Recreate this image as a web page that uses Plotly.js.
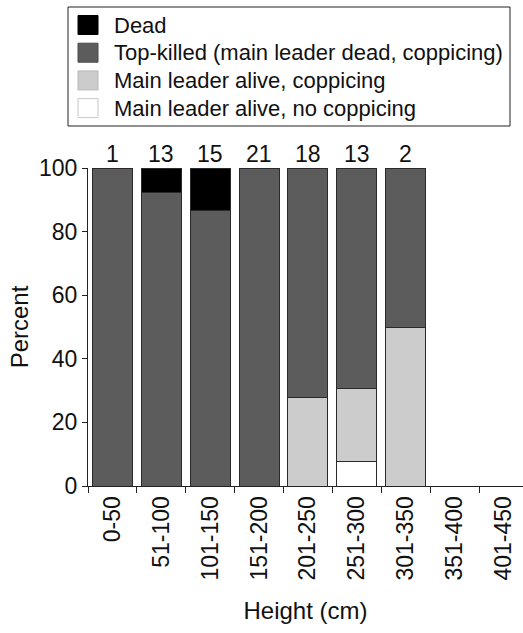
<!DOCTYPE html>
<html>
<head>
<meta charset="utf-8">
<script src="https://cdn.plot.ly/plotly-3.0.1.min.js"></script>
<style>html,body{margin:0;padding:0;background:#fff;}#chart{width:523px;height:633px;}</style>
</head>
<body>
<div id="chart"></div>
<script>
const heightClasses = ["0-50","51-100","101-150","151-200","201-250","251-300","301-350","351-400","401-450"];
const sampleSizes = [1, 13, 15, 21, 18, 13, 2, null, null];
const deadPct = [0, 7.7, 13.3, 0, 0, 0, 0, null, null];
const topKilledPct = [100, 92.3, 86.7, 100, 72.2, 69.2, 50, null, null];
const aliveCoppicingPct = [0, 0, 0, 0, 27.8, 23.1, 50, null, null];
const aliveNoCoppicingPct = [0, 0, 0, 0, 0, 7.7, 0, null, null];
const seriesNames = ["Main leader alive, no coppicing", "Main leader alive, coppicing", "Top-killed (main leader dead, coppicing)", "Dead"];
const seriesColors = ["#ffffff", "#cccccc", "#5c5c5c", "#000000"];
const swatchEdges = ["#c8c8c8", "#b8b8b8", "#4a4a4a", "#000000"];
const seriesValues = [aliveNoCoppicingPct, aliveCoppicingPct, topKilledPct, deadPct];

const FONT = "Liberation Sans, Arial, Helvetica, sans-serif";
const W = 523, H = 633;
const M = {l: 88, r: 0, t: 168, b: 147};
const plotW = W - M.l - M.r, plotH = H - M.t - M.b;
const px2x = px => (px - M.l) / plotW;
const py2y = py => (H - M.b - py) / plotH;

const traces = seriesNames.map((name, i) => ({
  type: "bar",
  x: heightClasses,
  y: seriesValues[i],
  name: name,
  marker: {color: seriesColors[i], line: {color: "#2a2a2a", width: 1}},
  hoverinfo: "skip",
  showlegend: false
}));

const annotations = heightClasses.map((c, i) => sampleSizes[i] == null ? null : ({
  x: c, y: 100, xref: "x", yref: "y",
  text: String(sampleSizes[i]),
  showarrow: false, yanchor: "bottom", yshift: -1,
  font: {family: FONT, size: 23, color: "#111"}
})).filter(a => a);

// Hand-built legend (box, swatches, labels), top entry = top of stack
const shapes = [{
  type: "rect", xref: "paper", yref: "paper",
  x0: px2x(68), x1: px2x(510), y0: py2y(126), y1: py2y(7),
  line: {color: "#222", width: 1}, fillcolor: "rgba(0,0,0,0)", layer: "above"
}];
const legendOrder = [3, 2, 1, 0];
legendOrder.forEach((k, row) => {
  const cy = 25 + row * 27.7;
  shapes.push({
    type: "rect", xref: "paper", yref: "paper",
    x0: px2x(78), x1: px2x(98), y0: py2y(cy + 9.5), y1: py2y(cy - 9.5),
    fillcolor: seriesColors[k], line: {color: swatchEdges[k], width: 1}, layer: "above"
  });
  annotations.push({
    xref: "paper", yref: "paper", x: px2x(112), y: py2y(cy),
    xanchor: "left", yanchor: "middle", showarrow: false,
    text: seriesNames[k],
    font: {family: FONT, size: 22, color: "#111"}
  });
});

const layout = {
  width: W, height: H,
  margin: M,
  paper_bgcolor: "#fff", plot_bgcolor: "#fff",
  barmode: "stack",
  bargap: 0.18,
  font: {family: FONT, size: 22, color: "#111"},
  showlegend: false,
  xaxis: {
    type: "category",
    categoryorder: "array", categoryarray: heightClasses,
    range: [-0.5, 8.4],
    tickson: "boundaries",
    ticks: "outside", ticklen: 6, tickcolor: "#222", tickwidth: 1,
    tickangle: -90,
    showline: true, linecolor: "#222", linewidth: 1,
    showgrid: false, zeroline: false,
    tickfont: {family: FONT, size: 23, color: "#111"},
    title: {text: "Height (cm)", font: {family: FONT, size: 24, color: "#111"}, standoff: 22},
    fixedrange: true
  },
  yaxis: {
    range: [0, 100],
    tickvals: [0, 20, 40, 60, 80, 100],
    ticks: "outside", ticklen: 5, tickcolor: "#222", tickwidth: 1,
    showline: true, linecolor: "#222", linewidth: 1,
    showgrid: false, zeroline: false,
    tickfont: {family: FONT, size: 23, color: "#111"},
    title: {text: "Percent", font: {family: FONT, size: 24, color: "#111"}, standoff: 3},
    fixedrange: true
  },
  shapes: shapes,
  annotations: annotations
};

Plotly.newPlot("chart", traces, layout, {displayModeBar: false, staticPlot: true});
</script>
</body>
</html>
